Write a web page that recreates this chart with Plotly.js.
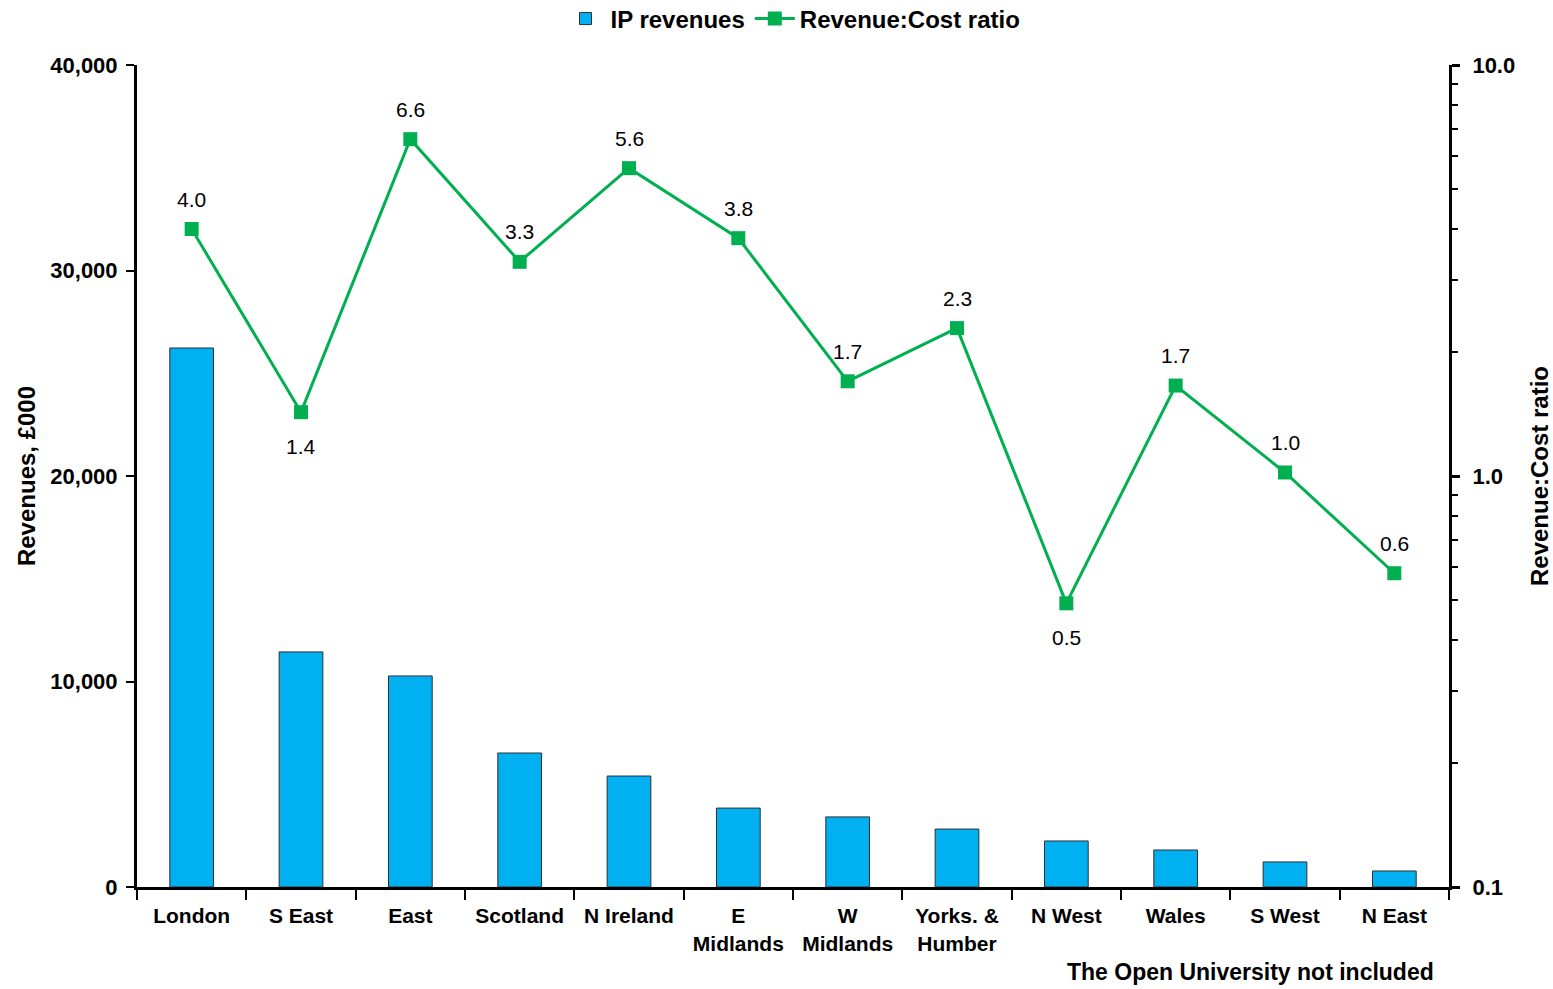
<!DOCTYPE html>
<html>
<head>
<meta charset="utf-8">
<script src="https://cdn.plot.ly/plotly-3.0.1.min.js"></script>
<style>html,body{margin:0;padding:0;background:#fff;}#chart{width:1553px;height:989px;}</style>
</head>
<body>
<div id="chart"></div>
<script>
const regions = ["London", "S East", "East", "Scotland", "N Ireland", "E<br>Midlands", "W<br>Midlands", "Yorks. &<br>Humber", "N West", "Wales", "S West", "N East"];
const ipRevenues = [26230, 11440, 10270, 6520, 5400, 3840, 3410, 2820, 2240, 1800, 1220, 780];
const revenueCostRatio = [3.99, 1.43, 6.6, 3.32, 5.61, 3.79, 1.70, 2.29, 0.49, 1.66, 1.02, 0.58];
const labelBelow = [false, true, false, false, false, false, false, false, true, false, false, false];
const leftTicks = [0, 10000, 20000, 30000, 40000];
const leftTickText = ["0", "10,000", "20,000", "30,000", "40,000"];
const rightTicks = [0.1, 1, 10];
const rightTickText = ["0.1", "1.0", "10.0"];

const font = "Liberation Sans, Arial, sans-serif";

const traces = [
  {
    type: "bar",
    name: "IP revenues",
    x: regions,
    y: ipRevenues,
    marker: {color: "#00B0F0", line: {color: "#303030", width: 1}},
    yaxis: "y"
  },
  {
    type: "scatter",
    mode: "lines+markers",
    name: "Revenue:Cost ratio",
    x: regions,
    y: revenueCostRatio,
    yaxis: "y2",
    line: {color: "#00B050", width: 3},
    marker: {color: "#00B050", symbol: "square", size: 14},
    cliponaxis: false
  }
];

const labelAnnotations = regions.map((r, i) => ({
  x: r,
  y: Math.log10(revenueCostRatio[i]),
  xref: "x", yref: "y2",
  text: revenueCostRatio[i].toFixed(1),
  showarrow: false,
  yshift: labelBelow[i] ? -34 : 30,
  font: {family: font, size: 21, color: "#000"}
}));

const layout = {
  width: 1553,
  height: 989,
  margin: {l: 137, r: 104, t: 65, b: 102, autoexpand: false},
  paper_bgcolor: "#fff",
  plot_bgcolor: "#fff",
  font: {family: font, color: "#000"},
  bargap: 0.6,
  showlegend: true,
  legend: {
    orientation: "h",
    x: 0.5, xanchor: "center",
    y: 1.056, yanchor: "middle",
    font: {family: font, size: 24, color: "#000", weight: "bold"},
    traceorder: "normal",
    itemwidth: 40
  },
  xaxis: {
    showline: true, linecolor: "#000", linewidth: 3,
    ticks: "outside", tickson: "boundaries", ticklen: 10, tickwidth: 2, tickcolor: "#000",
    ticklabelstandoff: 8,
    tickfont: {family: font, size: 21, color: "#000", weight: "bold"},
    showgrid: false, zeroline: false,
    range: [-0.5, 11.5]
  },
  yaxis: {
    range: [0, 40000],
    tickvals: leftTicks, ticktext: leftTickText,
    showline: true, linecolor: "#000", linewidth: 3,
    ticks: "outside", ticklen: 8, tickwidth: 2, tickcolor: "#000",
    ticklabelstandoff: 4,
    tickfont: {family: font, size: 22, color: "#000", weight: "bold"},
    showgrid: false, zeroline: false,
    title: {text: "Revenues, £000", font: {family: font, size: 24, color: "#000", weight: "bold"}, standoff: 8}
  },
  yaxis2: {
    type: "log",
    range: [-1, 1],
    overlaying: "y",
    side: "right",
    tickvals: rightTicks, ticktext: rightTickText,
    showline: true, linecolor: "#000", linewidth: 3,
    ticks: "outside", ticklen: 8, tickwidth: 3, tickcolor: "#000",
    ticklabelstandoff: 8,
    minor: {ticks: "outside", ticklen: 6, tickwidth: 2, tickcolor: "#000", dtick: "D1", showgrid: false},
    tickfont: {family: font, size: 22, color: "#000", weight: "bold"},
    showgrid: false, zeroline: false,
    title: {text: "Revenue:Cost ratio", font: {family: font, size: 24, color: "#000", weight: "bold"}, standoff: 18}
  },
  annotations: labelAnnotations.concat([
    {
      text: "The Open University not included",
      xref: "paper", yref: "paper",
      x: 0.99, y: -0.103, xanchor: "right", yanchor: "middle",
      showarrow: false,
      font: {family: font, size: 23, color: "#000", weight: "bold"}
    }
  ])
};

Plotly.newPlot("chart", traces, layout, {displayModeBar: false});
</script>
</body>
</html>
